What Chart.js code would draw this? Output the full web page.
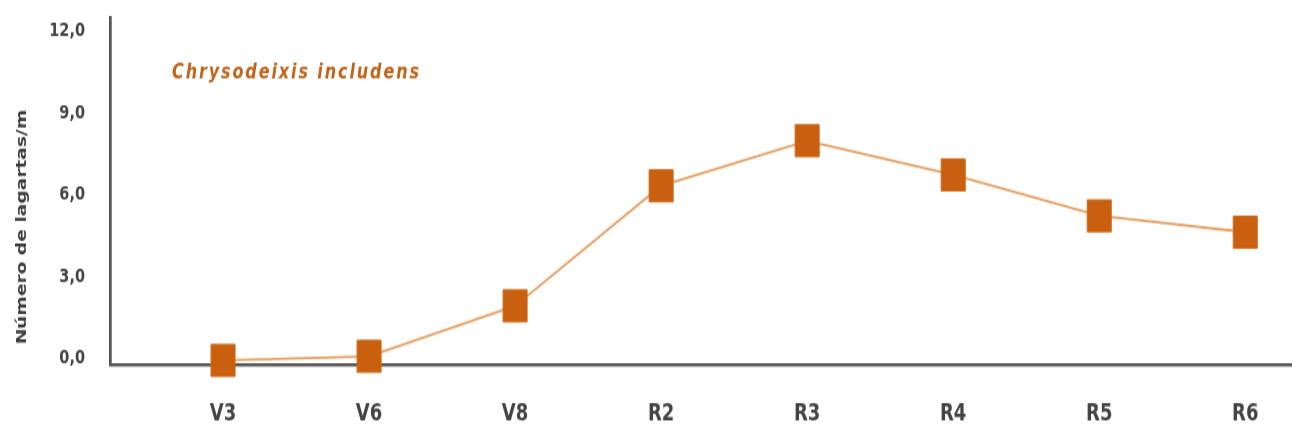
<!DOCTYPE html>
<html><head><meta charset="utf-8">
<script src="https://cdn.jsdelivr.net/npm/chart.js@4"></script>
<style>
html,body{margin:0;padding:0;background:#fff;width:1292px;height:435px;overflow:hidden}
#wrap{width:1292px;height:327px;transform:scaleY(1.3303);transform-origin:0 0;}
</style></head><body>
<div id="wrap"><canvas id="c" width="1292" height="327"></canvas></div>
<script>
const categories = ['V3','V6','V8','R2','R3','R4','R5','R6'];
const larvae = [0.15, 0.3, 2.15, 6.55, 8.2, 6.95, 5.45, 4.85];
const yTicks = [0, 3, 6, 9, 12];
const seriesLabel = 'Chrysodeixis includens';
const yTitle = 'Número de lagartas/m';

const textPlugin = {
  id: 'texts',
  afterDraw(chart) {
    const ctx = chart.ctx, a = chart.chartArea;
    ctx.save();
    ctx.font = 'italic bold 16px "DejaVu Sans"';
    try { ctx.letterSpacing = '1.9px'; } catch (e) {}
    ctx.fillStyle = '#c0651b';
    ctx.textBaseline = 'alphabetic';
    ctx.textAlign = 'left';
    ctx.fillText(seriesLabel, a.left + 62, 58.5);
    ctx.restore();
    ctx.save();
    ctx.translate(22, 170.7);
    ctx.rotate(-Math.PI / 2);
    ctx.font = 'bold 14px "DejaVu Sans"';
    ctx.fillStyle = '#3c3c3c';
    ctx.textAlign = 'center';
    ctx.textBaseline = 'middle';
    ctx.fillText(yTitle, 0, 0);
    ctx.restore();
  }
};

new Chart(document.getElementById('c'), {
  type: 'line',
  data: {
    datasets: [{
      label: seriesLabel,
      data: larvae.map((v, i) => ({ x: i, y: v })),
      borderColor: '#e6a064',
      borderWidth: 1.8,
      pointStyle: 'rect',
      pointRadius: 17,
      pointHoverRadius: 17,
      pointBackgroundColor: '#c8600f',
      pointBorderColor: '#d06a1c',
      pointBorderWidth: 1,
      tension: 0,
      clip: false
    }]
  },
  options: {
    responsive: false,
    animation: false,
    devicePixelRatio: 1,
    layout: { autoPadding: false, padding: { top: 13.5, left: 0, right: 0, bottom: 0 } },
    plugins: { legend: { display: false }, tooltip: { enabled: false } },
    scales: {
      x: {
        type: 'linear', min: -0.774, max: 7.32,
        afterBuildTicks: s => { s.ticks = categories.map((_, i) => ({ value: i })); },
        afterFit: s => { s.height = 53; s.paddingLeft = 0; s.paddingRight = 0; },
        ticks: {
          callback: v => categories[v],
          font: { family: 'DejaVu Sans', weight: 'bold', size: 18 },
          color: '#444', padding: 27, maxRotation: 0, autoSkip: false
        },
        grid: { drawOnChartArea: false, drawTicks: false },
        border: { display: true, color: '#555', width: 2.5 },
        z: 1
      },
      y: {
        min: 0, max: 12.7,
        afterBuildTicks: s => { s.ticks = yTicks.map(v => ({ value: v })); },
        afterFit: s => { s.width = 110; s.paddingTop = 0; s.paddingBottom = 0; },
        ticks: {
          callback: v => v.toFixed(1).replace('.', ','),
          font: { family: 'DejaVu Sans', weight: 'bold', size: 14.5 },
          color: '#444', padding: 25, labelOffset: -4.5
        },
        grid: { drawOnChartArea: false, drawTicks: false },
        border: { display: true, color: '#555', width: 2.7 }
      }
    }
  },
  plugins: [textPlugin]
});
</script>
</body></html>
